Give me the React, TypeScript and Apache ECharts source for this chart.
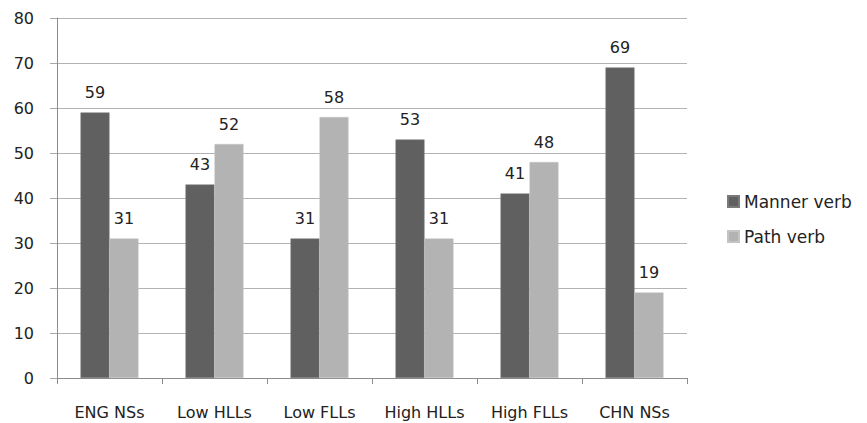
import React, { useEffect, useRef } from "react";
import * as echarts from "echarts";

const categories = ["ENG NSs", "Low HLLs", "Low FLLs", "High HLLs", "High FLLs", "CHN NSs"];
const mannerVerb = [59, 43, 31, 53, 41, 69];
const pathVerb = [31, 52, 58, 31, 48, 19];
const seriesNames = ["Manner verb", "Path verb"];

const FONT = "'DejaVu Sans', sans-serif";

export default function App() {
  const ref = useRef<HTMLDivElement>(null);
  useEffect(() => {
    if (!ref.current) return;
    const chart = echarts.init(ref.current, undefined, { renderer: "svg" });
    const labelStyle = {
      show: true,
      position: "top" as const,
      distance: 12,
      color: "#222",
      fontFamily: FONT,
      fontSize: 16,
    };
    chart.setOption({
      animation: false,
      backgroundColor: "#fff",
      grid: { left: 57, right: 180, top: 18, bottom: 45, containLabel: false },
      legend: {
        orient: "vertical",
        left: 722,
        top: 188,
        itemWidth: 11,
        itemHeight: 11,
        itemGap: 18,
        icon: "rect",
        textStyle: { fontFamily: FONT, fontSize: 17, color: "#222" },
        data: seriesNames,
      },
      xAxis: {
        type: "category",
        data: categories,
        axisLine: { lineStyle: { color: "#8c8c8c" } },
        axisTick: { show: true, length: 6, lineStyle: { color: "#8c8c8c" } },
        axisLabel: { margin: 26, color: "#222", fontFamily: FONT, fontSize: 16 },
      },
      yAxis: {
        type: "value",
        min: 0,
        max: 80,
        interval: 10,
        axisLine: { show: true, lineStyle: { color: "#8c8c8c" } },
        axisTick: { show: true, length: 7, lineStyle: { color: "#a8a8a8" } },
        splitLine: { lineStyle: { color: "#b3b3b3" } },
        axisLabel: { margin: 23, color: "#222", fontFamily: FONT, fontSize: 16 },
      },
      series: [
        {
          name: seriesNames[0],
          type: "bar",
          data: mannerVerb,
          barWidth: 29,
          barGap: "0%",
          itemStyle: { color: "#606060", borderColor: "#7a7a7a", borderWidth: 0.5 },
          label: labelStyle,
        },
        {
          name: seriesNames[1],
          type: "bar",
          data: pathVerb,
          barWidth: 29,
          barGap: "0%",
          itemStyle: { color: "#b3b3b3", borderColor: "#c4c4c4", borderWidth: 0.5 },
          label: labelStyle,
        },
      ],
    });
    return () => chart.dispose();
  }, []);
  return (
    <div
      ref={ref}
      style={{ position: "fixed", left: 0, top: 0, width: 867, height: 423 }}
    />
  );
}
